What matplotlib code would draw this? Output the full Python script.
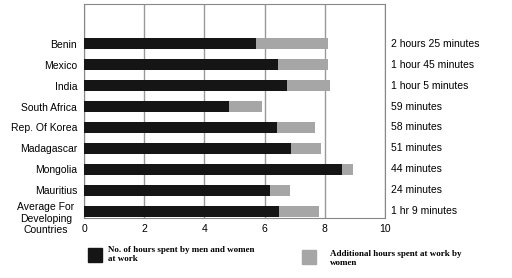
import matplotlib.pyplot as plt
from matplotlib.transforms import ScaledTranslation

countries = ["Benin", "Mexico", "India", "South Africa", "Rep. Of Korea",
             "Madagascar", "Mongolia", "Mauritius",
             "Average For\nDeveloping\nCountries"]
men_women = [5.7, 6.43, 6.73, 4.83, 6.4, 6.87, 8.57, 6.17, 6.47]
extra_women = [2.4, 1.67, 1.44, 1.07, 1.27, 1.0, 0.36, 0.66, 1.33]
extra_labels = ["2 hours 25 minutes", "1 hour 45 minutes", "1 hour 5 minutes",
                "59 minutes", "58 minutes", "51 minutes", "44 minutes",
                "24 minutes", "1 hr 9 minutes"]
xticks = [0, 2, 4, 6, 8, 10]

plt.rcParams['font.family'] = ['Liberation Sans', 'DejaVu Sans']

fig = plt.figure(figsize=(5.12, 2.78), dpi=100)
ax = fig.add_axes([84 / 512, 1 - 218 / 278, 301 / 512, 214 / 278])

y = list(range(len(countries)))
ax.barh(y, men_women, height=0.52, color='#151515', zorder=3)
ax.barh(y, extra_women, left=men_women, height=0.52, color='#a6a6a6', zorder=3)

ax.set_xlim(0, 10)
ax.set_ylim(len(countries) - 1 + 0.33, -1.9)
ax.set_xticks(xticks)
ax.set_xticklabels([str(t) for t in xticks], fontsize=7.5)
ax.set_yticks(y)
ax.set_yticklabels(countries, fontsize=7.5)
ax.tick_params(length=0, pad=4)
ax.tick_params(axis='y', pad=5)
ax.grid(axis='x', color='#999999', linewidth=1, zorder=0)
for s in ax.spines.values():
    s.set_color('#888888')

# last label: multi-line, starts near the bar and hangs below the axis
last = ax.get_yticklabels()[-1]
last.set_va('top')
last.set_ha('center')
last.set_transform(last.get_transform() +
                   ScaledTranslation(-31 / 100, 9 / 100, fig.dpi_scale_trans))

for yi, lab in zip(y, extra_labels):
    ax.annotate(lab, xy=(1, yi), xycoords=('axes fraction', 'data'),
                xytext=(4, 0), textcoords='offset points',
                va='center', ha='left', fontsize=7.5)

# legend
fig.patches.append(plt.Rectangle((88 / 512, 1 - 262 / 278), 14 / 512, 14 / 278,
                                 transform=fig.transFigure, color='#151515'))
fig.patches.append(plt.Rectangle((302 / 512, 1 - 264 / 278), 14 / 512, 14 / 278,
                                 transform=fig.transFigure, color='#a6a6a6'))
fig.text(108 / 512, 1 - 246 / 278, "No. of hours spent by men and women\nat work",
         family='Liberation Serif', weight='bold', fontsize=6.5, va='top',
         linespacing=1.15)
fig.text(330 / 512, 1 - 250 / 278, "Additional hours spent at work by\nwomen",
         family='Liberation Serif', weight='bold', fontsize=6.5, va='top',
         linespacing=1.15)

fig.savefig('out.png', dpi=100)
